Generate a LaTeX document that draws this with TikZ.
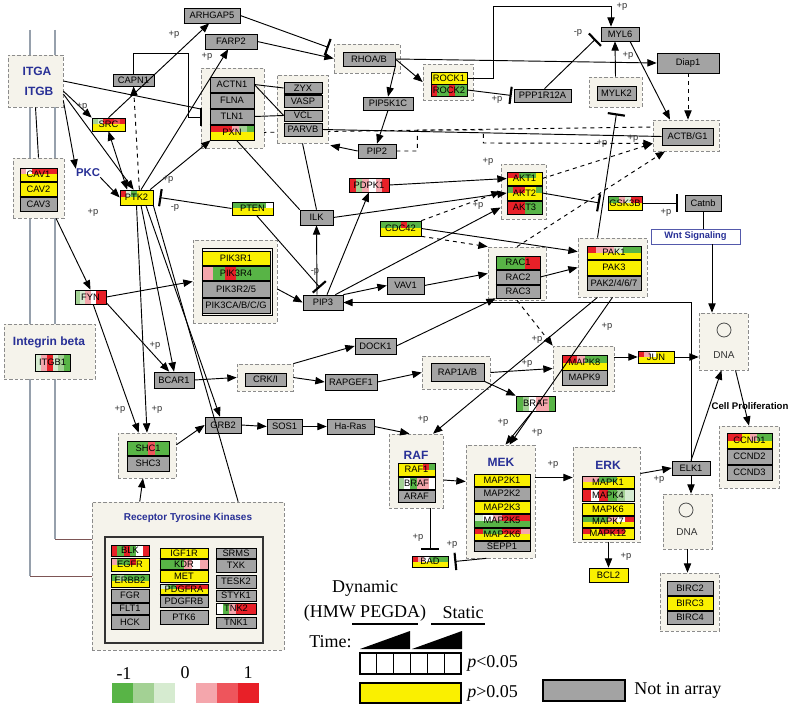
\documentclass[tikz,border=0pt]{standalone}
\usepackage{fontspec}
\setmainfont{Liberation Serif}
\newfontfamily\arialfont{Liberation Sans}
\usetikzlibrary{arrows.meta,calc}

\definecolor{gy}{RGB}{163,163,163}
\definecolor{yl}{RGB}{250,240,0}
\definecolor{gn}{RGB}{88,180,70}
\definecolor{gL}{RGB}{163,209,148}
\definecolor{gP}{RGB}{214,235,208}
\definecolor{rd}{RGB}{232,32,40}
\definecolor{rM}{RGB}{238,85,92}
\definecolor{rP}{RGB}{244,166,172}
\definecolor{grpfill}{RGB}{245,243,235}
\definecolor{grpline}{RGB}{140,140,140}
\definecolor{ttl}{RGB}{40,48,150}
\definecolor{wire}{RGB}{150,160,172}
\definecolor{wireh}{RGB}{125,85,85}

\pgfdeclarelayer{bg}
\pgfsetlayers{bg,main}

\tikzset{
  w/.style={minimum width=#1*0.75pt},
  h/.style={minimum height=#1*0.75pt},
  gene/.style={draw=black, fill=gy, line width=0.5pt, inner sep=0pt, h=14,
    font=\arialfont\fontsize{7}{7.5}\selectfont,
    append after command={(\tikzlastnode.south west) edge[line width=1.1pt] (\tikzlastnode.south east)}},
  grp/.style={draw=grpline, dash pattern=on 2.5pt off 1.5pt, fill=grpfill, line width=0.5pt, inner sep=0pt},
  hm/.style={path picture={
    \foreach \c [count=\i from 0] in {#1}
      \fill[fill=\c] ($(path picture bounding box.north west)!{\i/6}!(path picture bounding box.north east)$)
        rectangle ($(path picture bounding box.west)!{(\i+1)/6}!(path picture bounding box.east)$);}},
  hmf/.style={path picture={
    \foreach \c [count=\i from 0] in {#1}
      \fill[fill=\c] ($(path picture bounding box.north west)!{\i/6}!(path picture bounding box.north east)$)
        rectangle ($(path picture bounding box.south west)!{(\i+1)/6}!(path picture bounding box.south east)$);}},
  ttlb/.style={text=ttl, inner sep=0pt, font=\arialfont\bfseries\fontsize{9}{10}\selectfont},
  pl/.style={inner sep=0pt, text=black!80, font=\arialfont\fontsize{7}{8}\selectfont},
  lgd/.style={inner sep=0pt, font=\fontsize{13.5}{15}\selectfont},
  ln/.style={line width=0.7pt},
  arr/.style={-{Triangle[length=7pt,width=5.5pt]}, line width=0.7pt},
  arrs/.style={{Triangle[length=7pt,width=5.5pt]}-{Triangle[length=7pt,width=5.5pt]}, line width=0.7pt},
  inh/.style={-{Bar[width=13pt,line width=1.6pt]}, line width=0.7pt},
}

\begin{document}
\begin{tikzpicture}[x=0.75pt,y=-0.75pt]
\useasboundingbox (0,0) rectangle (795,709);

% groups
\node[grp, w=55, h=52] (gITG) at (35.5,81) {};
\node[grp, w=51, h=60] (gCAV) at (38.5,188) {};
\node[grp, w=63, h=80] (gACTN) at (232.5,108) {};
\node[grp, w=51, h=68] (gZYX) at (302.5,109) {};
\node[grp, w=66, h=29] (gRHO) at (367,58.5) {};
\node[grp, w=50, h=36] (gROCK) at (448,82) {};
\node[grp, w=53, h=30] (gMYLK) at (615.5,92) {};
\node[grp, w=66, h=31] (gACTB) at (686,135.5) {};
\node[grp, w=45, h=55] (gAKT) at (523.5,191.5) {};
\node[grp, w=84, h=83] (gPIK) at (235,281.5) {};
\node[grp, w=91, h=55] (gINT) at (49.5,351.5) {};
\node[grp, w=56, h=27] (gCRK) at (265,377.5) {};
\node[grp, w=68, h=33] (gRAP) at (456,372.5) {};
\node[grp, w=58, h=45] (gSHC) at (147,455.5) {};
\node[grp, w=58, h=53] (gRAC) at (517,273.5) {};
\node[grp, w=69, h=59] (gPAK) at (612.5,267.5) {};
\node[grp, w=61, h=45] (gMAPK8) at (583.5,368.5) {};
\node[grp, w=49, h=57] (gDNA1) at (723.5,341.5) {};
\node[grp, w=60, h=62] (gCCND) at (749,457) {};
\node[grp, w=54, h=74] (gRAF) at (416,471) {};
\node[grp, w=69, h=113] (gMEK) at (500.5,501.5) {};
\node[grp, w=67, h=95] (gERK) at (606.5,494.5) {};
\node[grp, w=49, h=55] (gDNA2) at (687.5,521.5) {};
\node[grp, w=59, h=58] (gBIRC) at (689.5,602) {};
\node[grp, w=192, h=148] (gRTK) at (188,576) {};
\node[draw=black!80, line width=0.8pt, fill=grpfill, w=158, h=106] (rtkin) at (184,590) {};
\node[draw=black, line width=0.5pt, w=70, h=67] (pikstack) at (237.5,282) {};

% titles
\node[ttlb] (tITGA) at (37,71) {ITGA};
\node[ttlb] (tITGB) at (39,91) {ITGB};
\node[ttlb, font=\arialfont\bfseries\fontsize{8.5}{10}\selectfont] (PKC) at (88,173) {PKC};
\node[ttlb] (tINT) at (49,342) {Integrin beta};
\node[ttlb] (tRAF) at (416,455) {RAF};
\node[ttlb] (tMEK) at (501,462) {MEK};
\node[ttlb] (tERK) at (608,465) {ERK};
\node[ttlb, font=\arialfont\bfseries\fontsize{7.5}{9}\selectfont] (tRTK) at (188,518) {Receptor Tyrosine Kinases};
\node[inner sep=0pt, font=\arialfont\bfseries\fontsize{7.2}{8}\selectfont] (tCP) at (750,406) {Cell Proliferation};
\node[draw=ttl!80, fill=white, text=ttl, inner sep=0pt, w=89, h=15, font=\arialfont\bfseries\fontsize{7}{8}\selectfont] (Wnt) at (695.5,236.5) {Wnt Signaling};
\node[circle, draw=black!70, line width=0.6pt, minimum size=10.5pt, inner sep=0pt] (dna1c) at (724,330) {};
\node[pl, font=\arialfont\fontsize{7.5}{8}\selectfont] (dna1t) at (724,355) {DNA};
\node[circle, draw=black!70, line width=0.6pt, minimum size=10.5pt, inner sep=0pt] (dna2c) at (686,510) {};
\node[pl, font=\arialfont\fontsize{7.5}{8}\selectfont] (dna2t) at (687,532) {DNA};

% genes
\node[gene, w=56, h=15] (ARHGAP5) at (212,15.5) {ARHGAP5};
\node[gene, w=52, h=15] (FARP2) at (231,41.5) {FARP2};
\node[gene, w=41, h=12] (CAPN1) at (133.5,80) {CAPN1};
\node[gene, w=33, h=13, fill=yl, hm={gL,gP,rd,rd,rM,rd}] (SRC) at (108.5,124.5) {SRC};
\node[gene, w=37, h=13, fill=yl, hm={rP,white,rd,rd,rd,rd}] (CAV1) at (38.5,174.5) {CAV1};
\node[gene, w=37, fill=yl] (CAV2) at (38.5,189) {CAV2};
\node[gene, w=37] (CAV3) at (38.5,204) {CAV3};
\node[gene, w=44, h=15] (ACTN1) at (232,84.5) {ACTN1};
\node[gene, w=44, h=15] (FLNA) at (232,100.5) {FLNA};
\node[gene, w=44, h=15] (TLN1) at (232,116.5) {TLN1};
\node[gene, w=44, h=15, fill=yl, hm={rd,rd,rd,rP,gL,gn}] (PXN) at (232,132.5) {PXN};
\node[gene, w=38, h=11] (ZYX) at (303,88) {ZYX};
\node[gene, w=38, h=12] (VASP) at (303,101) {VASP};
\node[gene, w=38, h=11] (VCL) at (303,115.5) {VCL};
\node[gene, w=38, h=13] (PARVB) at (303,129.5) {PARVB};
\node[gene, w=52] (RHOAB) at (369,59) {RHOA/B};
\node[gene, w=50, h=13] (PIP5K1C) at (388,103.5) {PIP5K1C};
\node[gene, w=38] (PIP2) at (377,151) {PIP2};
\node[gene, w=36, h=12, fill=yl] (ROCK1) at (449,78) {ROCK1};
\node[gene, w=36, h=12, hmf={rd,gn,gn,rd,gn,gn}] (ROCK2) at (449,90) {ROCK2};
\node[gene, w=57, h=13] (PPP1R12A) at (542.5,95.5) {PPP1R12A};
\node[gene, w=38] (MYL6) at (620,34) {MYL6};
\node[gene, w=62, h=20] (Diap1) at (688,63) {Diap1};
\node[gene, w=39] (MYLK2) at (616.5,93) {MYLK2};
\node[gene, w=51, h=17] (ACTBG1) at (687.5,136.5) {ACTB/G1};
\node[gene, w=36, h=16] (Catnb) at (703,203) {Catnb};
\node[gene, w=34, fill=yl, hm={gn,gn,rP,gP,rd,rd}] (GSK3B) at (625,203) {GSK3B};
\node[gene, w=35, h=13, fill=yl, hm={rd,rd,gn,gn,gn,yl}] (AKT1) at (524.5,178.5) {AKT1};
\node[gene, w=35, fill=yl, hm={gn,rd,rd,yl,yl,gn}] (AKT2) at (524.5,193) {AKT2};
\node[gene, w=35, h=13, hmf={rd,rd,rd,gn,gn,gn}] (AKT3) at (524.5,207.5) {AKT3};
\node[gene, w=40, hmf={rd,gL,rP,white,rP,rd}] (PDPK1) at (369,185) {PDPK1};
\node[gene, w=33, h=15] (ILK) at (316.5,217.5) {ILK};
\node[gene, w=41, h=15, fill=yl, hm={gn,gn,gn,rd,gn,gn}] (CDC42) at (400.5,228.5) {CDC42};
\node[gene, w=41, h=13, fill=yl, hm={gn,gn,gn,gn,gn,white}] (PTEN) at (252.5,208.5) {PTEN};
\node[gene, w=33, h=15, fill=yl, hm={rd,gP,gn,yl,yl,yl}] (PTK2) at (136.5,197.5) {PTK2};
\node[gene, w=68, fill=yl] (PIK3R1) at (236,258) {PIK3R1};
\node[gene, w=68, hmf={rP,gn,rd,gn,gn,gn}] (PIK3R4) at (236,273) {PIK3R4};
\node[gene, w=68, h=16] (PIK3R25) at (236,289) {PIK3R2/5};
\node[gene, w=68, h=15] (PIK3CA) at (236,305.5) {PIK3CA/B/C/G};
\node[gene, w=31, hmf={gL,gP,rP,white,rd,rd}] (FYN) at (90.5,297) {FYN};
\node[gene, w=35, h=17, hmf={gP,rP,rd,gP,gL,gn}] (ITGB1) at (52.5,362.5) {ITGB1};
\node[gene, w=40, h=16] (BCAR1) at (174,380) {BCAR1};
\node[gene, w=41, h=13] (CRKII) at (265.5,379.5) {CRK/I};
\node[gene, w=41, h=16] (DOCK1) at (375.5,346) {DOCK1};
\node[gene, w=52, h=16] (RAPGEF1) at (351,382) {RAPGEF1};
\node[gene, w=53, h=18] (RAP1AB) at (457.5,372) {RAP1A/B};
\node[gene, w=36, h=16] (GRB2) at (223,425) {GRB2};
\node[gene, w=35, h=15] (SOS1) at (284.5,426.5) {SOS1};
\node[gene, w=47, h=15] (HaRas) at (350.5,426.5) {Ha-Ras};
\node[gene, w=42, hmf={gn,gn,gn,rM,gn,gn}] (SHC1) at (148,448) {SHC1};
\node[gene, w=42, h=15] (SHC3) at (148,463.5) {SHC3};
\node[gene, w=40, h=15] (PIP3) at (323,302.5) {PIP3};
\node[gene, w=37, h=17] (VAV1) at (405.5,285.5) {VAV1};
\node[gene, w=44, h=13, hmf={gn,gn,gn,gn,rd,rd}] (RAC1) at (518,262.5) {RAC1};
\node[gene, w=44] (RAC2) at (518,277) {RAC2};
\node[gene, w=44, h=13] (RAC3) at (518,291.5) {RAC3};
\node[gene, w=54, h=13, fill=yl, hm={rd,rP,rP,gP,gn,gn}] (PAK1) at (614,252.5) {PAK1};
\node[gene, w=54, h=15, fill=yl] (PAK3) at (614,267.5) {PAK3};
\node[gene, w=54] (PAK2) at (614,283) {PAK2/4/6/7};
\node[gene, w=45, h=15, fill=yl, hm={rd,rd,rP,gn,gn,gn}] (MAPK8) at (584.5,362.5) {MAPK8};
\node[gene, w=45, h=15] (MAPK9) at (584.5,377.5) {MAPK9};
\node[gene, w=36, h=12, fill=yl, hm={rd,rP,white,yl,yl,yl}] (JUN) at (656,357) {JUN};
\node[gene, w=39, h=15, hmf={gn,gL,white,rP,rP,gn}] (BRAF) at (535.5,403.5) {BRAF};
\node[gene, w=37, h=13, fill=yl, hm={yl,yl,yl,yl,rd,gn}] (RAF1) at (416.5,469.5) {RAF1};
\node[gene, w=37, h=12, hmf={gL,white,gn,rP,rP,white}] (BRAFb) at (416.5,483) {BRAF};
\node[gene, w=37, h=12] (ARAF) at (416.5,496) {ARAF};
\node[gene, w=56, h=12, fill=yl] (MAP2K1) at (502,480) {MAP2K1};
\node[gene, w=56, h=13] (MAP2K2) at (502,493.5) {MAP2K2};
\node[gene, w=56, h=12, fill=yl] (MAP2K3) at (502,507) {MAP2K3};
\node[gene, w=56, h=13, fill=gn, hm={gP,white,rP,rd,rd,rd}] (MAP2K5) at (502,520.5) {MAP2K5};
\node[gene, w=56, h=12, fill=yl, hm={rd,gn,gn,rd,rd,rP}] (MAP2K6) at (502,534) {MAP2K6};
\node[gene, w=56, h=10] (SEPP1) at (502,546) {SEPP1};
\node[gene, w=52, h=12, fill=yl, hm={rP,rP,gn,gn,yl,yl}] (MAPK1) at (608,482) {MAPK1};
\node[gene, w=52, h=12, hmf={rd,white,rd,gn,gL,gP}] (MAPK4) at (608,495) {MAPK4};
\node[gene, w=52, h=12, fill=yl] (MAPK6) at (608,509) {MAPK6};
\node[gene, w=52, h=11, fill=yl, hm={gn,gn,gn,rP,white,rd}] (MAPK7) at (608,521.5) {MAPK7};
\node[gene, w=52, h=11, fill=yl, hm={rd,yl,rd,rd,rd,yl}] (MAPK12) at (608,533.5) {MAPK12};
\node[gene, w=36, h=11, fill=yl, hm={rd,rP,white,gn,gn,gn}] (BAD) at (430,561.5) {BAD};
\node[gene, w=39, fill=yl] (BCL2) at (608.5,575) {BCL2};
\node[gene, w=38] (ELK1) at (691,468) {ELK1};
\node[gene, w=45, h=15, fill=yl, hm={rd,rd,yl,rP,gn,gn}] (CCND1) at (749.5,440.5) {CCND1};
\node[gene, w=45, h=15] (CCND2) at (749.5,456.5) {CCND2};
\node[gene, w=45, h=15] (CCND3) at (749.5,472.5) {CCND3};
\node[gene, w=46] (BIRC2) at (690,588) {BIRC2};
\node[gene, w=46, fill=yl] (BIRC3) at (690,603) {BIRC3};
\node[gene, w=46, h=13] (BIRC4) at (690,617.5) {BIRC4};
% receptor tyrosine kinases
\node[gene, w=38, h=11, hmf={rd,gn,rd,gn,white,rd}] (BLK) at (130,550.5) {BLK};
\node[gene, w=38, h=13, fill=yl, hm={rP,gn,gn,rd,yl,yl}] (EGFR) at (130,564.5) {EGFR};
\node[gene, w=38, h=13, fill=yl, hm={gn,gL,gn,gn,gn,gn}] (ERBB2) at (130,580.5) {ERBB2};
\node[gene, w=38, h=13] (FGR) at (130,595.5) {FGR};
\node[gene, w=38, h=11] (FLT1) at (130,608.5) {FLT1};
\node[gene, w=38] (HCK) at (130,622) {HCK};
\node[gene, w=48, h=10, fill=yl] (IGF1R) at (184,553) {IGF1R};
\node[gene, w=48, h=10, hmf={gn,gn,gn,rP,white,rP}] (KDR) at (184,564) {KDR};
\node[gene, w=48, h=12, fill=yl] (MET) at (184,576) {MET};
\node[gene, w=48, h=10, fill=yl, hm={gP,gn,rd,rd,rd,rd}] (PDGFRA) at (184,589) {PDGFRA};
\node[gene, w=48, h=12] (PDGFRB) at (184,601) {PDGFRB};
\node[gene, w=48] (PTK6) at (184,617) {PTK6};
\node[gene, w=40, h=10] (SRMS) at (236,553) {SRMS};
\node[gene, w=40, h=13] (TXK) at (236,565.5) {TXK};
\node[gene, w=40, h=13] (TESK2) at (236,581.5) {TESK2};
\node[gene, w=40, h=11] (STYK1) at (236,595.5) {STYK1};
\node[gene, w=40, h=11, hmf={white,gn,rP,rd,rd,rd}] (TNK2) at (236,608.5) {TNK2};
\node[gene, w=40, h=11] (TNK1) at (236,622.5) {TNK1};

% integrin / focal adhesion
\coordinate (tbar) at ($(gACTN.west)+(0,9)$);
\draw[ln] (gITG.south) -- (gCAV.north);
\draw[arr] (gITG.-20) -- (SRC.north west);
\draw[arr] (gITG.-35) -- (PKC.north west);
\draw[arr] (gITG.-25) -- (PTK2.110);
\draw[ln] (gITG.0) -- ($(tbar)+(0,-8)$);
\draw[ln] (CAPN1.north) -- ++(0,-20) -| ($(tbar)+(-12,0)$) -- (tbar);
\draw[line width=1.6pt] ($(tbar)+(0,-9)$) -- ($(tbar)+(0,9)$);
\draw[arr] (PKC.south east) -- (PTK2.west);
\draw[arrs] (SRC.south) -- (PTK2.140);
\draw[arr, dashed] (PTK2.70) -- (CAPN1.south);
\draw[arr] (SRC.north) -- (ARHGAP5.250);
\draw[arr] (PTK2.60) -- (FARP2.250);
\draw[arr] (PTK2.30) -- (PXN.200);
\draw[inh] (PTEN.west) -- ($(PTK2.east)+(6,0)$);
\draw[inh] (PTEN.-60) -- ($(PIP3.north)+(-3,-7)$);
\draw[arr] (gPIK.-10) -- (PIP3.west);
\draw[arr] (FYN.east) -- (gPIK.west);
\draw[arr] (FYN.-20) -- (BCAR1.120);
\draw[arr] (FYN.-70) -- (gSHC.110);
\draw[arr] (gCAV.-60) -- (FYN.north);
\draw[arr] (PTK2.south) -- (gSHC.north);
\draw[arr] (PTK2.-60) -- (BCAR1.north);
\draw[arr] (PTK2.-40) -- (GRB2.110);
\draw[ln] (PTK2.-25) -- (gRTK.56.5);
\draw[arr] (gRTK.123) -- (gSHC.260);
\draw[arr] (gSHC.20) -- (GRB2.west);
\draw[arr] (GRB2.east) -- (SOS1.west);
\draw[arr] (SOS1.east) -- (HaRas.west);
\draw[arr] (HaRas.east) -- (gRAF.100);
\draw[arr] (BCAR1.east) -- (gCRK.west);
\draw[arr] (gCRK.north east) -- (DOCK1.west);
\draw[arr] (gCRK.east) -- (RAPGEF1.west);
\draw[arr] (RAPGEF1.east) -- (gRAP.west);
\draw[arr] (DOCK1.east) -- (RAC3.south west);
\draw[arr] (RAP1AB.south east) -- (BRAF.north west);
\draw[arr] (gRAP.east) -- (gMAPK8.west);
\draw[arr] (BRAF.-110) -- ($(gMEK.north)+(5,0)$);
\draw[arr] (gPAK.south) -- ($(gMEK.north)+(9,0)$);
\draw[arr] ($(gPAK.south)+(-15,0)$) -- ($(gRAF.north)+(17,0)$);
\draw[arr, dashed] (gRAC.south) -- (gMAPK8.north west);
\draw[arr] ($(gMAPK8.east)+(0,-11.5)$) -- (JUN.west);
\draw[arr] (JUN.east) -- (JUN.east -| gDNA1.west);
\draw[arr] ($(gRAF.east)+(0,9)$) -- ($(gMEK.west)+(0,-20)$);
\draw[arr] ($(gMEK.east)+(0,-24)$) -- ($(gERK.west)+(0,-17)$);
\draw[arr] ($(gERK.east)+(0,-21)$) -- (ELK1.west);
\draw[arr] (gERK.south -| BCL2.north) -- (BCL2.north);
\draw[arr] (ELK1.south) -- (ELK1.south |- gDNA2.north);
\draw[arr] (ELK1.north) -- ($(gDNA1.south)+(-2,0)$);
\draw[arr] (ELK1.north) |- (PIP3.east);
\draw[arr] ($(gDNA1.south)+(12,0)$) -- (gCCND.north);
\draw[arr] (gDNA2.south) -- (gDNA2.south |- gBIRC.north);
\draw[inh] (gRAF.south -| BAD.north) -- ($(BAD.north)+(0,-6)$);
\draw[inh] ($(gMEK.south)+(-14,0)$) -- ($(BAD.east)+(6,0)$);

% cytoskeleton
\draw[arr] (RHOAB.east) -- (gROCK.west);
\draw[arr] (RHOAB.south east) -- (PIP5K1C.north);
\draw[arr] (RHOAB.east) -- (Diap1.west);
\draw[inh] (ARHGAP5.east) -- ($(gRHO.west)+(-5,-11)$);
\draw[arr] (FARP2.east) -- (gRHO.west);
\draw[arr] (ROCK1.east) -- ++(26,0) |- ($(MYL6.north)+(-9,-20)$) -- ($(MYL6.north)+(-9,0)$);
\draw[inh] (ROCK2.east) -- ($(PPP1R12A.west)+(-2,0)$);
\draw[inh] ($(PPP1R12A.north)+(2,0)$) -- ($(MYL6.west)+(-5,5)$);
\draw[arr] (gMYLK.north) -- ($(MYL6.south)+(-5,0)$);
\draw[arr] ($(MYL6.south)+(10,0)$) -- ($(gACTB.north)+(-16,0)$);
\draw[arr, dashed] (Diap1.south) -- (Diap1.south |- gACTB.north);
\draw[arr] (PIP5K1C.south) -- (PIP2.north);
\draw[arr] (PIP2.west) -- ($(gZYX.south east)+(2,2)$);
\draw[arr, dashed] (PIP2.east) -- ++(21,0) -- ++(0,-21) -- ++(66,0) -- ++(0,13) -- ($(gACTB.west)+(0,8)$);
\draw[ln] (PARVB.east) -- (ACTBG1.west);
\draw[ln] (ACTN1.east) -- (ZYX.west);
\draw[ln] (ACTN1.east) -- (VCL.west);
\draw[ln] (TLN1.east) -- (VCL.west);
\draw[ln] (PXN.-60) -- (ILK.north west);
\draw[ln] (gZYX.south) -- (ILK.north);
\draw[arr] (ILK.east) -- (AKT2.west);
\draw[arr] (PDPK1.east) -- (AKT1.west);
\draw[arr] ($(PIP3.north)+(-6,0)$) -- (ILK.south);
\draw[arr] ($(PIP3.north)+(4,0)$) -- (PDPK1.south);
\draw[arr] ($(PIP3.north east)+(-8,0)$) -- (gAKT.west |- AKT3.west);
\draw[arr] (PIP3.north east) -- (VAV1.west);
\draw[arr] (VAV1.east) -- (gRAC.west);
\draw[arr] (RAC2.east) -- (gPAK.west);
\draw[arr] (CDC42.east) -- ($(gPAK.north west)+(0,14)$);
\draw[arr, dashed] (CDC42.south east) -- (gRAC.north west);
\draw[arr, dashed] (CDC42.north east) -- (gAKT.west);
\draw[arr, dashed] (AKT1.east) -- ($(gACTB.west)+(0,8)$);
\draw[arr, dashed] (gRAC.north) -- ($(gACTB.south)+(-21,0)$);
\draw[inh] (AKT2.east) -- ($(GSK3B.west)+(-8,0)$);
\draw[inh] (GSK3B.east) -- ($(Catnb.west)+(-7,0)$);
\draw[ln] (Catnb.south) -- (Catnb.south |- Wnt.north);
\draw[arr] ($(Wnt.south)+(16.5,0)$) -- ($(gDNA1.north)+(-11.5,0)$);
\draw[inh] ($(gPAK.north)+(-15,0)$) -- ($(gMYLK.south)+(1,6)$);

% phosphorylation labels
\node[pl] (pl1) at (82,107) {+p};
\node[pl] (pl2) at (174,35) {+p};
\node[pl] (pl3) at (207,57) {+p};
\node[pl] (pl4) at (168,180) {+p};
\node[pl] (pl5) at (175,208) {-p};
\node[pl] (pl6) at (93,213) {+p};
\node[pl] (pl7) at (497,100) {+p};
\node[pl] (pl8) at (488,162) {+p};
\node[pl] (pl9) at (478,206) {+p};
\node[pl] (pl10) at (622,7) {+p};
\node[pl] (pl11) at (578,33) {-p};
\node[pl] (pl12) at (628,56) {+p};
\node[pl] (pl13) at (633,139) {+p};
\node[pl] (pl14) at (602,144) {+p};
\node[pl] (pl15) at (666,213) {+p};
\node[pl] (pl16) at (315,272) {-p};
\node[pl] (pl17) at (155,346) {+p};
\node[pl] (pl18) at (120,410) {+p};
\node[pl] (pl19) at (157,410) {+p};
\node[pl] (pl20) at (423,420) {+p};
\node[pl] (pl21) at (527,364) {+p};
\node[pl] (pl22) at (537,340) {+p};
\node[pl] (pl23) at (607,327) {+p};
\node[pl] (pl24) at (503,423) {+p};
\node[pl] (pl25) at (537,433) {+p};
\node[pl] (pl26) at (553,465) {+p};
\node[pl] (pl27) at (659,480) {+p};
\node[pl] (pl28) at (626,557) {+p};
\node[pl] (pl29) at (418,538) {+p};
\node[pl] (pl30) at (452,545) {+p};

% legend
\node[lgd] (lneg) at (124,674) {-1};
\node[lgd] (lzero) at (185,673) {0};
\node[lgd] (lpos) at (248,673) {1};
\foreach \c [count=\i from 0] in {gn,gL,gP}
  \fill[fill=\c] (112+21*\i,683) rectangle ++(21,20);
\foreach \c [count=\i from 0] in {rP,rM,rd}
  \fill[fill=\c] (196+21*\i,683) rectangle ++(21,20);
\node[lgd] (ldyn) at (365,588) {Dynamic};
\node[lgd] (lhmw) at (365,613) {(HMW PEGDA)};
\node[lgd] (lsta) at (463,613) {Static};
\draw[line width=0.8pt] (352,624) -- (418,624);
\draw[line width=0.8pt] (431,624) -- (485,624);
\node[lgd, anchor=west] (ltime) at (309,642) {Time:};
\fill (360,649) -- (410,649) -- (410,631) -- cycle;
\fill (412,649) -- (462,649) -- (462,631) -- cycle;
\foreach \i in {0,...,5}
  \draw[line width=0.8pt] (360+16.83*\i,653) rectangle ++(16.83,21);
\node[lgd, anchor=west] (lsig) at (467,663) {\textit{p}<0.05};
\draw[fill=yl, line width=0.8pt] (360,683) rectangle (461,703);
\node[lgd, anchor=west] (lns) at (467,693) {\textit{p}>0.05};
\draw[fill=gy, line width=0.8pt] (543,680) rectangle (625,701);
\node[lgd, anchor=west] (lnia) at (634,690) {Not in array};

% lines hidden under the group boxes
\begin{pgfonlayer}{bg}
\fill[white] (0,0) rectangle (795,709);
\coordinate (wireA) at (30,30);
\coordinate (wireB) at (55,30);
\draw[wire, line width=0.8pt] (wireA) -- (wireA |- gRTK.west);
\draw[wireh, line width=0.7pt] (wireA |- gRTK.west) -- (gRTK.west);
\draw[wire, line width=0.8pt] (wireB) -- ($(wireB |- gRTK.west)+(0,-37)$);
\draw[wireh, line width=0.7pt] ($(wireB |- gRTK.west)+(0,-37)$) -- ($(gRTK.west)+(0,-37)$);
\draw[ln, dashed] (PXN.east) -- ($(gACTB.west)+(0,-8.5)$);
\end{pgfonlayer}
\end{tikzpicture}
\end{document}
